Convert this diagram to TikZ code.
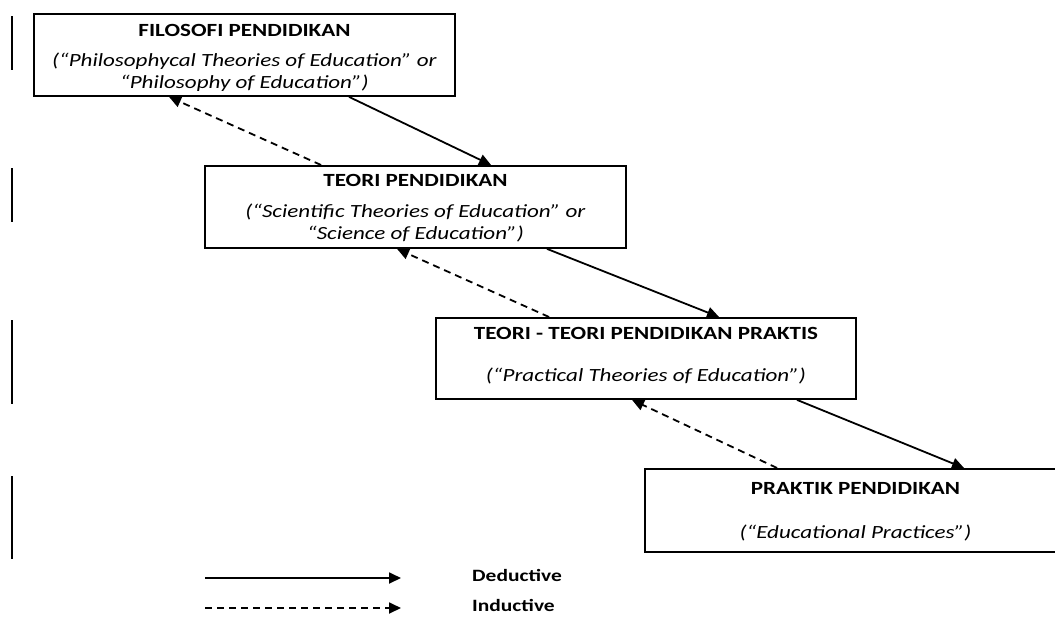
\documentclass[tikz,border=0pt]{standalone}
\usepackage{fontspec}
\setmainfont[FakeStretch=1.24]{Carlito}
\usetikzlibrary{arrows.meta}
\begin{document}
\begin{tikzpicture}[x=1pt,y=-1pt,
  box/.style={draw,line width=1.9pt,inner sep=0pt,align=center,anchor=north,font=\fontsize{18.6}{22}\selectfont},
  ded/.style={line width=1.8pt,-{Triangle[length=12pt,width=11pt]}},
  ind/.style={line width=1.8pt,dash pattern=on 7pt off 5pt,-{Triangle[length=12pt,width=11pt]}},
  bar/.style={line width=1.8pt},
  lg/.style={font=\fontsize{17.3}{20}\selectfont\bfseries,anchor=west,inner sep=0pt}]
\useasboundingbox (0,0) rectangle (1055,616);
\clip (0,0) rectangle (1055,616);
\node[box,minimum width=421pt,text height=75pt,text depth=7pt] (b1) at (244.5,13)
  {\textbf{FILOSOFI PENDIDIKAN}\\[8pt]\textit{(“Philosophycal Theories of Education” or}\\\textit{“Philosophy of Education”)}};
\node[box,minimum width=421pt,text height=74pt,text depth=8pt] (b2) at (415.5,165)
  {\textbf{TEORI PENDIDIKAN}\\[9pt]\textit{(“Scientific Theories of Education” or}\\\textit{“Science of Education”)}};
\node[box,minimum width=420pt,text height=64pt,text depth=17pt] (b3) at (646,317)
  {\textbf{TEORI - TEORI PENDIDIKAN PRAKTIS}\\[20pt]\textit{(“Practical Theories of Education”)}};
\node[box,minimum width=421pt,text height=70pt,text depth=13pt] (b4) at (855.5,468)
  {\textbf{PRAKTIK PENDIDIKAN}\\[22pt]\textit{(“Educational Practices”)}};
% deductive
\draw[ded] ([xshift=316pt]b1.south west) -- ([xshift=287pt]b2.north west);
\draw[ded] ([xshift=343pt]b2.south west) -- ([xshift=284pt]b3.north west);
\draw[ded] ([xshift=362pt]b3.south west) -- ([xshift=320pt]b4.north west);
% inductive
\draw[ind] ([xshift=117pt]b2.north west) -- ([xshift=136pt]b1.south west);
\draw[ind] ([xshift=114pt]b3.north west) -- ([xshift=193pt]b2.south west);
\draw[ind] ([xshift=133pt]b4.north west) -- ([xshift=197pt]b3.south west);
% side bars
\draw[bar] (12,16) -- (12,70);
\draw[bar] (12,168) -- (12,222);
\draw[bar] (12,320) -- (12,404);
\draw[bar] (12,476) -- (12,559);
% legend
\coordinate (l1a) at (205,578);
\coordinate (l1b) at (401,578);
\coordinate (l2a) at (205,608);
\coordinate (l2b) at (401,608);
\draw[ded] (l1a) -- (l1b);
\draw[ind] (l2a) -- (l2b);
\node[lg] (dl) at (472,575) {Deductive};
\node[lg] (il) at (472,605) {Inductive};
\end{tikzpicture}
\end{document}
